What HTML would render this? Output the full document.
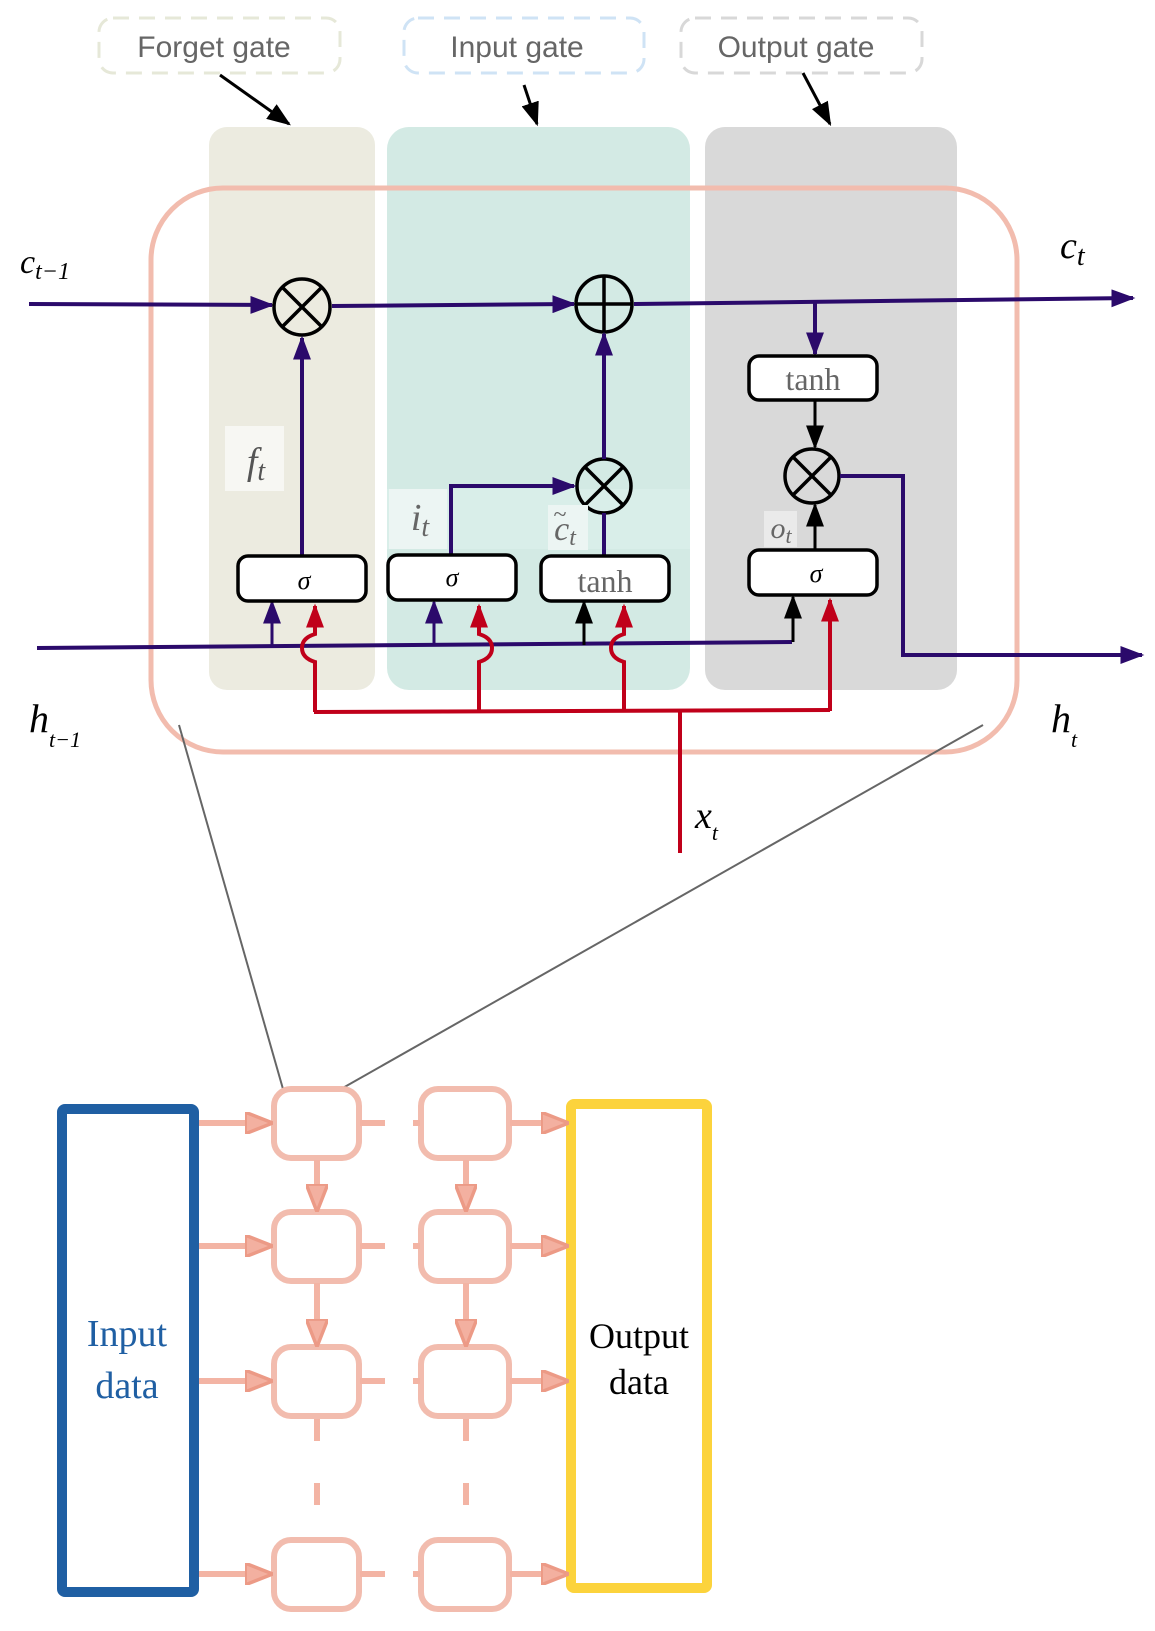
<!DOCTYPE html>
<html><head><meta charset="utf-8"><style>
html,body{margin:0;padding:0;background:#fff}
svg{display:block}
text{font-family:"Liberation Serif",serif}
.s{font-family:"Liberation Sans",sans-serif}
</style></head><body>
<svg width="1155" height="1631" viewBox="0 0 1155 1631" xmlns="http://www.w3.org/2000/svg">
<defs>
<marker id="ar" viewBox="0 0 10 10" refX="9" refY="5" markerWidth="24" markerHeight="18" markerUnits="userSpaceOnUse" orient="auto" preserveAspectRatio="none"><path d="M0,0L10,5L0,10z" fill="#c0001a"/></marker>
<marker id="aq" viewBox="0 0 10 10" refX="9" refY="5" markerWidth="24" markerHeight="18" markerUnits="userSpaceOnUse" orient="auto" preserveAspectRatio="none"><path d="M0,0L10,5L0,10z" fill="#2b0a6b"/></marker>
<marker id="ak" viewBox="0 0 10 10" refX="9" refY="5" markerWidth="24" markerHeight="18" markerUnits="userSpaceOnUse" orient="auto" preserveAspectRatio="none"><path d="M0,0L10,5L0,10z" fill="#000"/></marker>
<marker id="apk" viewBox="0 0 10 10" refX="9" refY="5" markerWidth="28" markerHeight="22" markerUnits="userSpaceOnUse" orient="auto" preserveAspectRatio="none"><path d="M0,0L10,5L0,10z" fill="#f3b0a0" stroke="#ec9a86" stroke-width="1.5"/></marker>
</defs>

<rect x="99" y="18" width="241" height="55" rx="14" fill="none" stroke="#e6e8d8" stroke-width="3" stroke-dasharray="16,10"/>
<text class="s" x="214" y="57" font-size="30" fill="#666" text-anchor="middle">Forget gate</text>
<rect x="404" y="18" width="240" height="55" rx="14" fill="none" stroke="#cfe3f5" stroke-width="3" stroke-dasharray="16,10"/>
<text class="s" x="517" y="57" font-size="30" fill="#666" text-anchor="middle">Input gate</text>
<rect x="681" y="18" width="241" height="55" rx="14" fill="none" stroke="#d8d8d8" stroke-width="3" stroke-dasharray="16,10"/>
<text class="s" x="796" y="57" font-size="30" fill="#666" text-anchor="middle">Output gate</text>

<rect x="209" y="127" width="166" height="563" rx="18" fill="#ecebe0"/>
<rect x="387" y="127" width="303" height="563" rx="22" fill="#d3eae4"/>
<rect x="705" y="127" width="252" height="563" rx="20" fill="#d9d9d9"/>
<rect x="387" y="489" width="303" height="60" fill="#d9eee9"/>

<line x1="220" y1="75" x2="289" y2="124" stroke="#000" stroke-width="3" marker-end="url(#ak)"/>
<line x1="524" y1="85" x2="537" y2="124" stroke="#000" stroke-width="3" marker-end="url(#ak)"/>
<line x1="803" y1="73" x2="830" y2="124" stroke="#000" stroke-width="3" marker-end="url(#ak)"/>

<rect x="151" y="188" width="866" height="564" rx="72" fill="none" stroke="#f2bcae" stroke-width="5"/>

<line x1="179" y1="725" x2="283" y2="1089" stroke="#666" stroke-width="2"/>
<line x1="983" y1="725" x2="341" y2="1089" stroke="#666" stroke-width="2"/>

<line x1="29" y1="304" x2="272" y2="305" stroke="#2b0a6b" stroke-width="4" marker-end="url(#aq)"/>
<line x1="332" y1="306" x2="574" y2="304" stroke="#2b0a6b" stroke-width="4" marker-end="url(#aq)"/>
<line x1="634" y1="304" x2="1133" y2="298" stroke="#2b0a6b" stroke-width="4" marker-end="url(#aq)"/>
<line x1="815" y1="301" x2="815" y2="354" stroke="#2b0a6b" stroke-width="4" marker-end="url(#aq)"/>

<g fill="none" stroke="#000" stroke-width="3.5">
<circle cx="302" cy="307" r="28"/><line x1="282" y1="287" x2="322" y2="327"/><line x1="322" y1="287" x2="282" y2="327"/>
<circle cx="604" cy="304" r="28"/><line x1="576" y1="304" x2="632" y2="304"/><line x1="604" y1="276" x2="604" y2="332"/>
<circle cx="604" cy="486" r="27"/><line x1="585" y1="467" x2="623" y2="505"/><line x1="623" y1="467" x2="585" y2="505"/>
<circle cx="812" cy="476" r="27"/><line x1="793" y1="457" x2="831" y2="495"/><line x1="831" y1="457" x2="793" y2="495"/>
</g>

<rect x="225" y="426" width="59" height="65" fill="#f7f7f3"/>
<text x="256" y="474" font-size="38" font-style="italic" fill="#555" text-anchor="middle">f<tspan font-size="28" dy="6">t</tspan></text>
<rect x="389" y="489" width="58" height="60" fill="#ecf5f3"/>
<text x="420" y="530" font-size="38" font-style="italic" fill="#666" text-anchor="middle">i<tspan font-size="28" dy="6">t</tspan></text>
<rect x="548" y="505" width="40" height="45" fill="#ecf5f3"/>
<text x="565" y="540" font-size="34" font-style="italic" fill="#666" text-anchor="middle">c<tspan font-size="24" dy="5">t</tspan></text>
<text x="560" y="522" font-size="24" fill="#666" text-anchor="middle">~</text>
<rect x="764" y="511" width="33" height="36" fill="#eaeaea"/>
<text x="781" y="538" font-size="30" font-style="italic" fill="#666" text-anchor="middle">o<tspan font-size="22" dy="5">t</tspan></text>

<line x1="302" y1="555" x2="302" y2="338" stroke="#2b0a6b" stroke-width="4" marker-end="url(#aq)"/>
<polyline points="451,555 451,486 574,486" fill="none" stroke="#2b0a6b" stroke-width="4" marker-end="url(#aq)"/>
<line x1="604" y1="513" x2="604" y2="556" stroke="#2b0a6b" stroke-width="4"/>
<line x1="604" y1="459" x2="604" y2="334" stroke="#2b0a6b" stroke-width="4" marker-end="url(#aq)"/>
<line x1="815" y1="400" x2="815" y2="447" stroke="#000" stroke-width="3" marker-end="url(#ak)"/>
<line x1="815" y1="550" x2="815" y2="505" stroke="#000" stroke-width="3" marker-end="url(#ak)"/>
<polyline points="840,476 903,476 903,655 1142,655" fill="none" stroke="#2b0a6b" stroke-width="4" marker-end="url(#aq)"/>

<line x1="37" y1="648" x2="792" y2="642" stroke="#2b0a6b" stroke-width="4"/>
<line x1="272" y1="647" x2="272" y2="602" stroke="#2b0a6b" stroke-width="3" marker-end="url(#aq)"/>
<line x1="434" y1="646" x2="434" y2="602" stroke="#2b0a6b" stroke-width="3" marker-end="url(#aq)"/>
<line x1="584" y1="645" x2="584" y2="602" stroke="#000" stroke-width="3" marker-end="url(#ak)"/>
<line x1="793" y1="642" x2="793" y2="597" stroke="#000" stroke-width="3" marker-end="url(#ak)"/>

<g fill="none" stroke="#c0001a" stroke-width="4">
<polyline points="314,712 830,710"/>
<line x1="680" y1="711" x2="680" y2="853"/>
<path d="M315,712 L315,662 Q302,658 302,648 Q302,638 315,634 L315,606" marker-end="url(#ar)"/>
<path d="M479,712 L479,662 Q492,658 492,648 Q492,638 479,634 L479,606" marker-end="url(#ar)"/>
<path d="M624,712 L624,662 Q611,658 611,648 Q611,638 624,634 L624,606" marker-end="url(#ar)"/>
<line x1="830" y1="711" x2="830" y2="600" marker-end="url(#ar)"/>
</g>

<g fill="#fff" stroke="#000" stroke-width="3.5">
<rect x="238" y="556" width="128" height="45" rx="10"/>
<rect x="388" y="555" width="128" height="45" rx="10"/>
<rect x="541" y="556" width="128" height="45" rx="10"/>
<rect x="749" y="550" width="128" height="45" rx="10"/>
<rect x="749" y="356" width="128" height="44" rx="10"/>
</g>
<text x="304" y="589" font-size="26" font-style="italic" text-anchor="middle">σ</text>
<text x="452" y="586" font-size="26" font-style="italic" text-anchor="middle">σ</text>
<text x="605" y="592" font-size="32" fill="#666" text-anchor="middle">tanh</text>
<text x="816" y="582" font-size="26" font-style="italic" text-anchor="middle">σ</text>
<text x="813" y="390" font-size="32" fill="#666" text-anchor="middle">tanh</text>

<text x="20" y="273" font-size="34" font-style="italic">c<tspan font-size="24" dy="6">t−1</tspan></text>
<text x="1060" y="258" font-size="38" font-style="italic">c<tspan font-size="28" dy="7">t</tspan></text>
<text x="29" y="732" font-size="40" font-style="italic">h<tspan font-size="22" dy="15">t−1</tspan></text>
<text x="1051" y="732" font-size="40" font-style="italic">h<tspan font-size="22" dy="15">t</tspan></text>
<text x="695" y="828" font-size="38" font-style="italic">x<tspan font-size="22" dy="12">t</tspan></text>

<rect x="62" y="1109" width="132" height="483" rx="3" fill="none" stroke="#1f5fa3" stroke-width="10"/>
<text x="127" y="1346" font-size="38" fill="#1f5fa3" text-anchor="middle">Input</text>
<text x="127" y="1398" font-size="38" fill="#1f5fa3" text-anchor="middle">data</text>
<rect x="571" y="1104" width="136" height="484" rx="3" fill="none" stroke="#fcd33c" stroke-width="10"/>
<text x="639" y="1348" font-size="36" fill="#000" text-anchor="middle">Output</text>
<text x="639" y="1394" font-size="36" fill="#000" text-anchor="middle">data</text>

<g fill="none" stroke="#f2bcae" stroke-width="6">
<rect x="274" y="1089" width="85" height="69" rx="17"/>
<rect x="421" y="1089" width="88" height="69" rx="17"/>
<rect x="274" y="1212" width="85" height="69" rx="17"/>
<rect x="421" y="1212" width="88" height="69" rx="17"/>
<rect x="274" y="1347" width="85" height="69" rx="17"/>
<rect x="421" y="1347" width="88" height="69" rx="17"/>
<rect x="274" y="1540" width="85" height="69" rx="17"/>
<rect x="421" y="1540" width="88" height="69" rx="17"/>
</g>
<g stroke="#f3b4a4" stroke-width="6" fill="none">
<line x1="199" y1="1123" x2="270" y2="1123" marker-end="url(#apk)"/>
<line x1="199" y1="1246" x2="270" y2="1246" marker-end="url(#apk)"/>
<line x1="199" y1="1381" x2="270" y2="1381" marker-end="url(#apk)"/>
<line x1="199" y1="1574" x2="270" y2="1574" marker-end="url(#apk)"/>
<line x1="510" y1="1123" x2="566" y2="1123" marker-end="url(#apk)"/>
<line x1="510" y1="1246" x2="566" y2="1246" marker-end="url(#apk)"/>
<line x1="510" y1="1381" x2="566" y2="1381" marker-end="url(#apk)"/>
<line x1="510" y1="1574" x2="566" y2="1574" marker-end="url(#apk)"/>
<line x1="317" y1="1160" x2="317" y2="1209" marker-end="url(#apk)"/>
<line x1="466" y1="1160" x2="466" y2="1209" marker-end="url(#apk)"/>
<line x1="317" y1="1283" x2="317" y2="1344" marker-end="url(#apk)"/>
<line x1="466" y1="1283" x2="466" y2="1344" marker-end="url(#apk)"/>
<line x1="317" y1="1419" x2="317" y2="1538" stroke-dasharray="22,42"/>
<line x1="466" y1="1419" x2="466" y2="1538" stroke-dasharray="22,42"/>
<line x1="360" y1="1123" x2="385" y2="1123"/><line x1="413" y1="1123" x2="420" y2="1123"/>
<line x1="360" y1="1246" x2="385" y2="1246"/><line x1="413" y1="1246" x2="420" y2="1246"/>
<line x1="360" y1="1381" x2="385" y2="1381"/><line x1="413" y1="1381" x2="420" y2="1381"/>
<line x1="360" y1="1574" x2="385" y2="1574"/><line x1="413" y1="1574" x2="420" y2="1574"/>
</g>
</svg>
</body></html>
